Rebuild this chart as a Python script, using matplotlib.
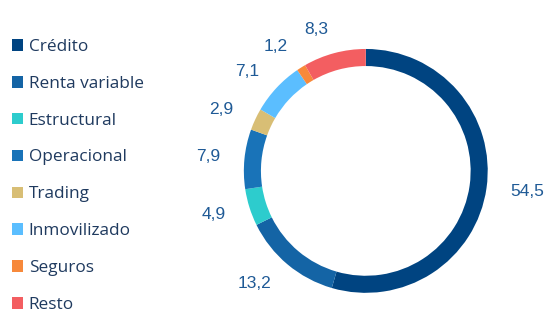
import matplotlib.pyplot as plt
from matplotlib.patches import Patch

# Datos
categorias = ["Crédito", "Renta variable", "Estructural", "Operacional",
              "Trading", "Inmovilizado", "Seguros", "Resto"]
valores = [54.5, 13.2, 4.9, 7.9, 2.9, 7.1, 1.2, 8.3]
colores = ["#004481", "#1464A5", "#2DCCCD", "#1973B8",
           "#D8BE75", "#5BBEFF", "#F7893B", "#F35E61"]

etiquetas = [f"{v:.1f}".replace(".", ",") for v in valores]

fig = plt.figure(figsize=(5.48, 3.13), dpi=100)
ax = fig.add_axes([0.445, 0.064, 0.445, 0.78])

wedges, textos = ax.pie(valores, colors=colores, labels=etiquetas,
                        startangle=90, counterclock=False,
                        labeldistance=1.2,
                        wedgeprops=dict(width=0.14, linewidth=0),
                        textprops=dict(color="#1F5A96", fontsize=12.5,
                                       family="Liberation Sans"))
ax.set_xlim(-1, 1)
ax.set_ylim(-1, 1)

handles = [Patch(facecolor=c, edgecolor="none") for c in colores]
fig.legend(handles, categorias, loc="upper left",
           bbox_to_anchor=(-0.006, 0.925), frameon=False,
           labelcolor="#1F3A5F",
           handlelength=0.65, handleheight=0.65, handletextpad=0.3,
           labelspacing=1.21, prop=dict(family="Open Sans", size=12.4))

fig.savefig("out.png", dpi=100)
